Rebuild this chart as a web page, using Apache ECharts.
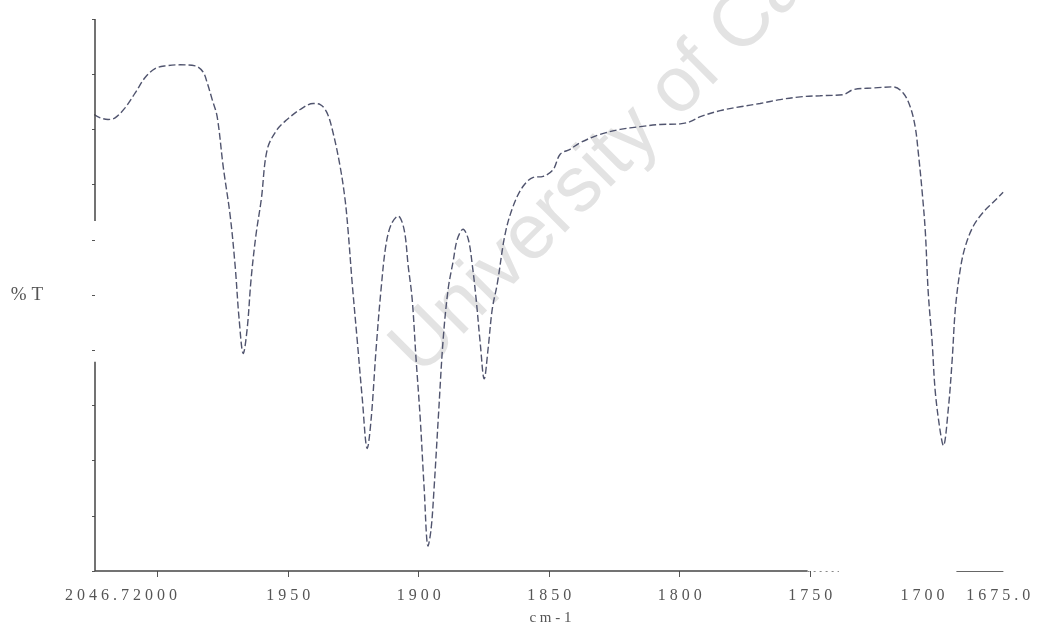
<!DOCTYPE html>
<html>
<head>
<meta charset="utf-8">
<script src="https://cdn.jsdelivr.net/npm/echarts@6/dist/echarts.min.js"></script>
<style>html,body{margin:0;padding:0;background:#fff}#c{width:1043px;height:631px}</style>
</head>
<body>
<div id="c"></div>
<script>
// wavenumber (cm-1)
const wavenumbers = [2024.3,2022.0,2019.0,2016.3,2012.5,2008.6,2004.8,2001.0,1997.1,1991.4,1985.6,1982.6,1981.0,1979.1,1977.2,1974.9,1972.2,1970.3,1968.8,1967.2,1965.7,1964.2,1962.3,1960.3,1958.0,1954.2,1950.4,1945.4,1940.4,1937.7,1935.1,1932.8,1930.1,1928.2,1927.0,1925.5,1923.6,1921.6,1919.7,1918.2,1916.3,1914.4,1912.5,1910.5,1907.9,1905.6,1904.0,1902.5,1901.0,1899.4,1897.9,1896.4,1895.2,1894.1,1892.5,1890.6,1888.7,1886.8,1885.2,1883.0,1881.0,1879.5,1878.0,1876.4,1874.9,1873.4,1871.8,1869.9,1866.9,1863.8,1860.0,1856.1,1852.3,1848.5,1845.8,1842.0,1838.1,1830.5,1822.8,1815.1,1807.5,1799.8,1796.0,1792.1,1784.5,1776.8,1769.2,1761.5,1753.8,1746.2,1737.4,1733.5,1725.9,1718.2,1714.4,1711.7,1709.8,1708.6,1707.1,1705.9,1704.8,1703.3,1702.1,1700.2,1699.0,1697.1,1695.6,1694.4,1692.5,1690.6,1687.5,1683.7,1679.9,1676.1];
// transmittance (%T)
const transmittance = [82.7,82.1,81.8,82.1,83.9,86.6,89.4,91.0,91.5,91.7,91.5,90.4,88.4,85.4,82.3,73.3,64.3,55.2,45.7,39.4,43.9,52.9,61.0,67.3,76.4,80.0,81.8,83.6,84.7,84.5,83.0,79.4,73.3,67.3,61.4,52.3,42.1,31.2,22.2,27.6,40.3,51.1,59.2,62.8,64.3,61.9,55.2,49.3,38.4,27.6,15.0,4.5,7.8,15.0,27.6,42.1,51.1,56.1,60.1,61.9,60.1,55.6,49.3,41.2,34.8,40.3,47.5,52.0,61.0,66.1,69.7,71.3,71.5,72.7,75.5,76.4,77.6,79.1,80.0,80.5,80.9,81.0,81.4,82.3,83.4,84.1,84.7,85.4,85.9,86.1,86.3,87.2,87.5,87.7,86.6,84.1,80.5,75.8,68.6,61.4,50.5,41.5,32.5,25.3,22.7,29.4,38.4,47.5,54.7,58.8,62.5,65.0,66.8,68.6];

const xTickValues = [2000,1950,1900,1850,1800,1750];
const xLabelValues = [2014,1950,1900,1850,1800,1750,1707,1678];
const xLabelTexts = ['2046.72000','1950','1900','1850','1800','1750','1700','1675.0'];
const xMin = 1675, xMax = 2024;
const yMin = 0, yMax = 100, yStep = 10;
const xTitle = 'c m - 1';
const yTitle = '% T';
const watermark = 'University of Cape Town';

const spaced = s => s.split('').join(' ');
const pts = wavenumbers.map((w,i)=>[w, transmittance[i]]);

const chart = echarts.init(document.getElementById('c'), null, {renderer:'canvas'});
const axisColor = '#555';
chart.setOption({
  animation:false,
  backgroundColor:'#fff',
  graphic:[{
    type:'text', z:-10, silent:true,
    x:405, y:362, rotation:Math.PI/4,
    style:{text:watermark, fontSize:78, fontFamily:'Liberation Sans', fill:'#e3e3e3', textVerticalAlign:'middle', textAlign:'left'}
  }],
  grid:{left:95, right:37, top:19, bottom:58},
  xAxis:{
    type:'value', inverse:true, min:xMin, max:xMax,
    name:xTitle, nameLocation:'middle', nameGap:40,
    nameTextStyle:{fontFamily:'Liberation Serif', fontSize:15, color:'#555'},
    axisLine:{show:false},
    axisTick:{show:true, customValues:xTickValues, length:6, lineStyle:{color:axisColor, width:1}},
    axisLabel:{customValues:xLabelValues, margin:17, fontFamily:'Liberation Serif', fontSize:16, color:'#555',
      formatter:v=>{const i=xLabelValues.indexOf(v); return i>=0?spaced(xLabelTexts[i]):'';}},
    splitLine:{show:false}
  },
  yAxis:{
    type:'value', min:yMin, max:yMax, interval:yStep,
    name:yTitle, nameLocation:'middle', nameGap:52, nameRotate:0,
    nameTextStyle:{fontFamily:'Liberation Serif', fontSize:19, color:'#555', padding:[20,0,0,0]},
    axisLine:{show:false},
    axisTick:{show:true, length:3, lineStyle:{color:axisColor, width:1}},
    axisLabel:{show:false},
    splitLine:{show:false}
  },
  series:[{
    type:'line', data:pts, showSymbol:false, smooth:0.35,
    lineStyle:{color:'#50546e', width:1.4, type:[7,3]},
    markLine:{
      silent:true, symbol:['none','none'], label:{show:false},
      lineStyle:{color:'#444', width:1.5, type:'solid'},
      data:[
        [{coord:[xMax,yMin]},{coord:[1751,yMin]}],
        [{coord:[1751,yMin]},{coord:[1739,yMin], lineStyle:{type:[2,4], color:'#888', width:1}}],
        [{coord:[1694,yMin]},{coord:[1676,yMin], lineStyle:{color:'#666', width:1}}],
        [{coord:[xMax,yMax]},{coord:[xMax,63.4]}],
        [{coord:[xMax,37.9]},{coord:[xMax,yMin]}]
      ]
    }
  }]
});
</script>
</body>
</html>
